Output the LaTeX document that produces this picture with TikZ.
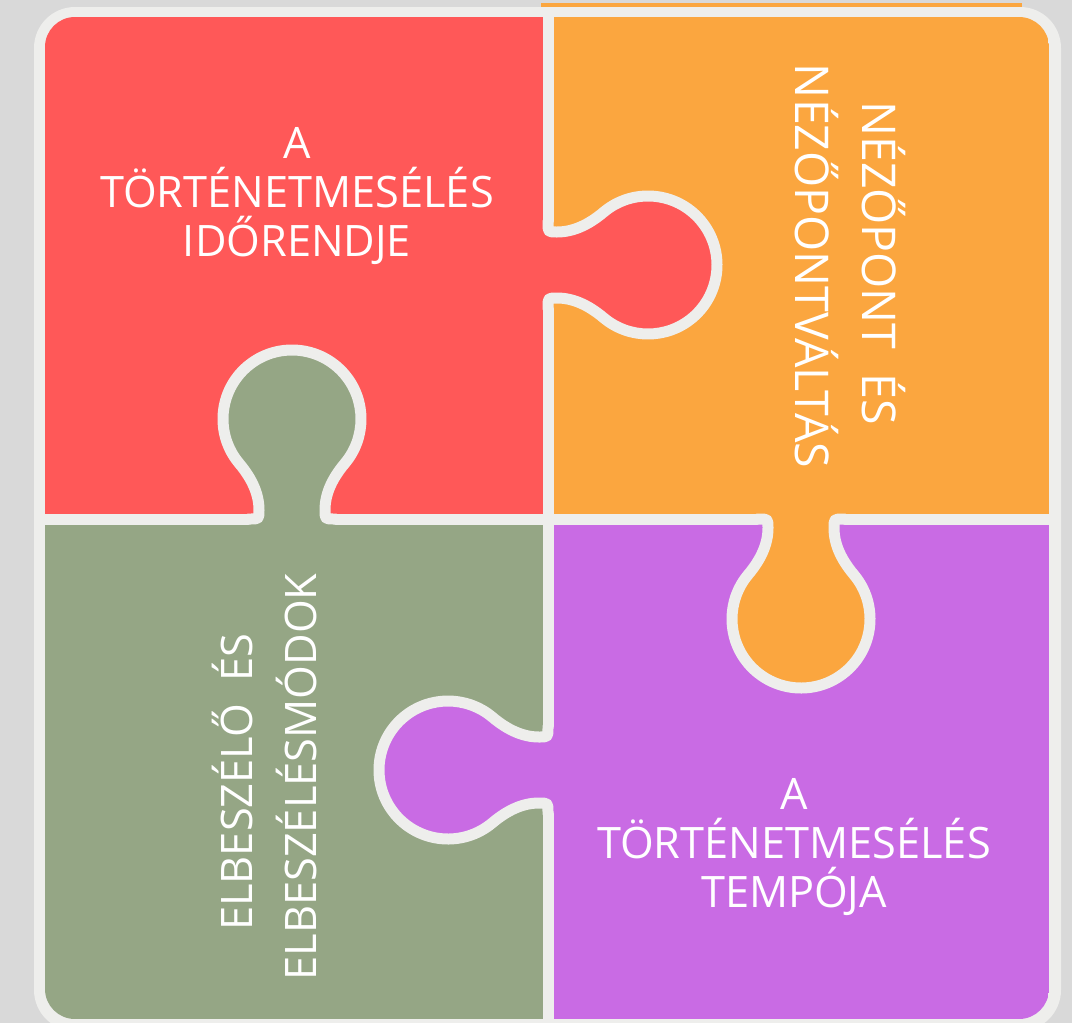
\documentclass[tikz,border=0pt]{standalone}
\usepackage{fontspec}
\setmainfont{Open Sans}
\definecolor{bg}{HTML}{D9D9D9}
\definecolor{framec}{HTML}{EEEEEC}
\definecolor{pred}{HTML}{FF5858}
\definecolor{porange}{HTML}{FBA63F}
\definecolor{pgreen}{HTML}{95A685}
\definecolor{ppurple}{HTML}{C96BE4}
\begin{document}
\begin{tikzpicture}[x=1pt,y=-1pt,
  seam/.style={draw=framec, line width=11pt, line cap=round, line join=round},
  knobp/.style={insert path={(0,-44) -- (0,-42) .. controls (0,-33) .. (9,-33) .. controls (25,-33) and (40.35,-40) .. (55.65,-52.86) arc[start angle=230, end angle=490, radius=69] .. controls (40.35,40) and (25,33) .. (9,33) .. controls (0,33) .. (0,42) -- (0,44)}},
  lbl/.style={text=white, font=\fontsize{43.3}{49}\selectfont, align=center, inner sep=0pt},
  vlblo/.style={text=white, font=\fontsize{46.5}{67}\selectfont, align=center, inner sep=0pt},
  vlblg/.style={text=white, font=\fontsize{43.4}{64}\selectfont, align=center, inner sep=0pt}
]
\useasboundingbox (0,0) rectangle (1072,1023);
\clip (0,0) rectangle (1072,1023);
\fill[bg] (0,0) rectangle (1072,1023);
\fill[porange] (541,3) rectangle (1022,8);
\fill[framec, rounded corners=41pt] (34,7) rectangle (1061,1031);
% quadrants
\begin{scope}
\clip[rounded corners=30pt] (45,17) rectangle (1049,1019);
\fill[pred] (45,17) rectangle (548,519);
\fill[porange] (548,17) rectangle (1049,519);
\fill[pgreen] (45,519) rectangle (548,1019);
\fill[ppurple] (548,519) rectangle (1049,1019);
\end{scope}
% knob fills
\begin{scope}[shift={(548,265)}]\fill[pred, knobp] -- cycle;\end{scope}
\begin{scope}[shift={(548,770)}, rotate=180]\fill[ppurple, knobp] -- cycle;\end{scope}
\begin{scope}[shift={(292,519)}, rotate=90]\fill[pgreen, knobp] -- cycle;\end{scope}
\begin{scope}[shift={(801,519)}, rotate=-90]\fill[porange, knobp] -- cycle;\end{scope}
% seams
\draw[seam] (548,17) -- (548,221);
\draw[seam] (548,309) -- (548,726);
\draw[seam] (548,814) -- (548,1019);
\draw[seam] (45,519) -- (248,519);
\draw[seam] (336,519) -- (757,519);
\draw[seam] (845,519) -- (1049,519);
\begin{scope}[shift={(548,265)}]\draw[seam, knobp];\end{scope}
\begin{scope}[shift={(548,770)}, rotate=180]\draw[seam, knobp];\end{scope}
\begin{scope}[shift={(292,519)}, rotate=90]\draw[seam, knobp];\end{scope}
\begin{scope}[shift={(801,519)}, rotate=-90]\draw[seam, knobp];\end{scope}
% labels
\node[lbl] (t1) at (297,196) {A\\TÖRTÉNETMESÉLÉS\\IDŐRENDJE};
\node[lbl] (t4) at (794,847) {A\\TÖRTÉNETMESÉLÉS\\TEMPÓJA};
\node[vlblo, rotate=-90] (t2) at (850,266) {NÉZŐPONT\ \ ÉS\kern6pt\\NÉZŐPONTVÁLTÁS};
\node[vlblg, rotate=90] (t3) at (265,777) {ELBESZÉLŐ\ \ ÉS\kern10pt\\ELBESZÉLÉSMÓDOK};
\end{tikzpicture}
\end{document}
